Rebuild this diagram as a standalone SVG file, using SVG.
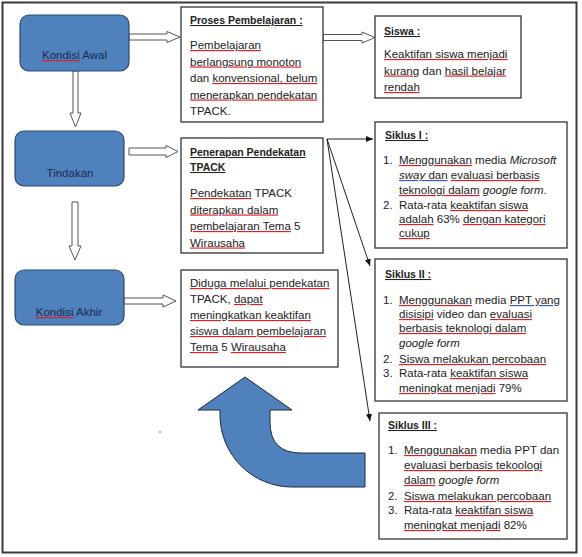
<svg xmlns="http://www.w3.org/2000/svg" width="582" height="557" viewBox="0 0 582 557">
<style>
text{font-family:"Liberation Sans",Arial,sans-serif;font-size:11.5px;fill:#222}
.t{font-weight:bold;font-size:10.5px;text-decoration:underline}
.bl{fill:#1b2a4e}
.box{fill:#fff;stroke:#333;stroke-width:1.3}
.blue{fill:#4f81bd;stroke:#2c4a75;stroke-width:1.2}
.hol{fill:#fff;stroke:#555;stroke-width:1}
.thin{stroke:#222;stroke-width:1;fill:none;marker-end:url(#ah)}
.sp{fill:#e02020;text-decoration:underline}
.k{fill:#222}
.kb{fill:#1b2a4e}
.bu{fill:#3355cc;text-decoration:underline}
.i{font-style:italic}
</style>
<defs>
<marker id="ah" markerWidth="8" markerHeight="8" refX="7" refY="4" orient="auto" markerUnits="userSpaceOnUse">
<path d="M0,1 L7,4 L0,7 Z" fill="#111"/>
</marker>
</defs>
<rect x="2.5" y="2.5" width="574" height="550" fill="#fff" stroke="#3a3a3a" stroke-width="2"/>

<g id="connectors">
<path class="hol" d="M129,34 L167,34 L167,31.5 L180,37 L167,42.5 L167,40 L129,40 Z"/>
<path class="hol" d="M323,34.5 L362,34.5 L362,32 L375,37.5 L362,43 L362,40.5 L323,40.5 Z"/>
<path class="hol" d="M73,71 L73,113 L70,113 L75.5,127 L81,113 L78,113 L78,71 Z"/>
<path class="hol" d="M129,148 L166,148 L166,145.5 L178,151.5 L166,157.5 L166,155 L129,155 Z"/>
<path class="hol" d="M72,202 L72,246 L69,246 L75,260 L81,246 L78,246 L78,202 Z"/>
<path class="hol" d="M124,298 L163,298 L163,295 L176,301 L163,307 L163,304 L124,304 Z"/>
<line class="thin" x1="327" y1="139" x2="373" y2="139"/>
<line class="thin" x1="327" y1="139" x2="370" y2="266"/>
<line class="thin" x1="327" y1="139" x2="370" y2="421"/>
</g>

<g id="kondisi-awal">
<rect class="blue" x="20" y="15" width="109" height="56" rx="9"/>
<text class="bl" x="74.5" y="59" text-anchor="middle"><tspan class="sp"><tspan class="kb">Kondisi</tspan></tspan> Awal</text>
</g>
<g id="tindakan">
<rect class="blue" x="15" y="131" width="109" height="55" rx="9"/>
<text class="bl" x="70" y="177" text-anchor="middle">Tindakan</text>
</g>
<g id="kondisi-akhir">
<rect class="blue" x="15" y="270" width="109" height="55" rx="9"/>
<text class="bl" x="69" y="316" text-anchor="middle"><tspan class="sp"><tspan class="kb">Kondisi</tspan></tspan> Akhir</text>
</g>

<g id="proses">
<rect class="box" x="181" y="7" width="142" height="115"/>
<text class="t" x="190" y="24">Proses Pembelajaran :</text>
<text x="190" y="49"><tspan class="sp"><tspan class="k">Pembelajaran</tspan></tspan></text>
<text x="190" y="65.5"><tspan class="sp"><tspan class="k">berlangsung monoton</tspan></tspan></text>
<text x="190" y="82">dan <tspan class="sp"><tspan class="k">konvensional, belum</tspan></tspan></text>
<text x="190" y="98.5"><tspan class="sp"><tspan class="k">menerapkan pendekatan</tspan></tspan></text>
<text x="190" y="115">TPACK.</text>
</g>

<g id="siswa">
<rect class="box" x="375" y="16" width="146" height="82"/>
<text class="t" x="384" y="35">Siswa :</text>
<text x="384" y="58"><tspan class="sp"><tspan class="k">Keaktifan siswa menjadi</tspan></tspan></text>
<text x="384" y="74.5"><tspan class="sp"><tspan class="k">kurang</tspan></tspan> dan <tspan class="sp"><tspan class="k">hasil belajar</tspan></tspan></text>
<text x="384" y="91"><tspan class="sp"><tspan class="k">rendah</tspan></tspan></text>
</g>

<g id="penerapan">
<rect class="box" x="181" y="138" width="142" height="115"/>
<text class="t" x="190" y="156">Penerapan Pendekatan</text>
<text class="t" x="190" y="171">TPACK</text>
<text x="190" y="197"><tspan class="sp"><tspan class="k">Pendekatan</tspan></tspan> TPACK</text>
<text x="190" y="213.5"><tspan class="sp"><tspan class="k">diterapkan dalam</tspan></tspan></text>
<text x="190" y="230"><tspan class="sp"><tspan class="k">pembelajaran Tema</tspan></tspan> 5</text>
<text x="190" y="246.5"><tspan class="sp"><tspan class="k">Wirausaha</tspan></tspan></text>
</g>

<g id="diduga">
<rect class="box" x="181" y="270" width="157" height="97"/>
<text x="190" y="287"><tspan class="sp"><tspan class="k">Diduga melalui pendekatan</tspan></tspan></text>
<text x="190" y="303">TPACK, <tspan class="sp"><tspan class="k">dapat</tspan></tspan></text>
<text x="190" y="319"><tspan class="sp"><tspan class="k">meningkatkan keaktifan</tspan></tspan></text>
<text x="190" y="335"><tspan class="sp"><tspan class="k">siswa dalam pembelajaran</tspan></tspan></text>
<text x="190" y="351"><tspan class="sp"><tspan class="k">Tema</tspan></tspan> 5 <tspan class="sp"><tspan class="k">Wirausaha</tspan></tspan></text>
</g>

<g id="siklus-1">
<rect class="box" x="375" y="122" width="192" height="126"/>
<text class="t" x="385" y="139">Siklus I :</text>
<text x="383" y="164">1.</text>
<text x="399" y="164"><tspan class="sp"><tspan class="k">Menggunakan</tspan></tspan> media <tspan class="i">Microsoft</tspan></text>
<text x="399" y="179"><tspan class="bu"><tspan class="k"><tspan class="i">sway</tspan>  dan</tspan></tspan> <tspan class="sp"><tspan class="k">evaluasi berbasis</tspan></tspan></text>
<text x="399" y="194"><tspan class="sp"><tspan class="k">teknologi dalam</tspan></tspan> <tspan class="i">google form</tspan>.</text>
<text x="383" y="209">2.</text>
<text x="399" y="209">Rata-rata <tspan class="sp"><tspan class="k">keaktifan siswa</tspan></tspan></text>
<text x="399" y="223"><tspan class="sp"><tspan class="k">adalah</tspan></tspan> 63% <tspan class="sp"><tspan class="k">dengan kategori</tspan></tspan></text>
<text x="399" y="237"><tspan class="sp"><tspan class="k">cukup</tspan></tspan></text>
</g>

<g id="siklus-2">
<rect class="box" x="375" y="259" width="192" height="142"/>
<text class="t" x="385" y="278">Siklus II :</text>
<text x="383" y="304">1.</text>
<text x="399" y="304"><tspan class="sp"><tspan class="k">Menggunakan</tspan></tspan> media <tspan class="bu"><tspan class="k">PPT  yang</tspan></tspan></text>
<text x="399" y="318"><tspan class="sp"><tspan class="k">disisipi</tspan></tspan> video dan <tspan class="sp"><tspan class="k">evaluasi</tspan></tspan></text>
<text x="399" y="332"><tspan class="sp"><tspan class="k">berbasis teknologi dalam</tspan></tspan></text>
<text x="399" y="347" class="i">google form</text>
<text x="383" y="363">2.</text>
<text x="399" y="363"><tspan class="sp"><tspan class="k">Siswa melakukan percobaan</tspan></tspan></text>
<text x="383" y="377">3.</text>
<text x="399" y="377">Rata-rata <tspan class="sp"><tspan class="k">keaktifan siswa</tspan></tspan></text>
<text x="399" y="392"><tspan class="sp"><tspan class="k">meningkat menjadi</tspan></tspan> 79%</text>
</g>

<g id="siklus-3">
<rect class="box" x="379" y="413" width="188" height="126"/>
<text class="t" x="388" y="429">Siklus III :</text>
<text x="388" y="454">1.</text>
<text x="404" y="454"><tspan class="sp"><tspan class="k">Menggunakan</tspan></tspan> media PPT dan</text>
<text x="404" y="469"><tspan class="sp"><tspan class="k">evaluasi berbasis tekoologi</tspan></tspan></text>
<text x="404" y="484"><tspan class="sp"><tspan class="k">dalam</tspan></tspan> <tspan class="i">google form</tspan></text>
<text x="388" y="500">2.</text>
<text x="404" y="500"><tspan class="sp"><tspan class="k">Siswa melakukan percobaan</tspan></tspan></text>
<text x="388" y="514">3.</text>
<text x="404" y="514">Rata-rata <tspan class="sp"><tspan class="k">keaktifan siswa</tspan></tspan></text>
<text x="404" y="529"><tspan class="sp"><tspan class="k">meningkat menjadi</tspan></tspan> 82%</text>
</g>

<g id="u-turn-arrow">
<path d="M245,377 L292,410 L270,410 L270,422 Q270,453 301,453 L365,453 L365,487 L292,487 A72,72 0 0 1 220,416 L220,410 L198,410 Z" fill="#4f81bd" stroke="#1e2a3a" stroke-width="1"/>
</g>
<circle cx="160" cy="432" r="0.8" fill="#444"/>
</svg>
